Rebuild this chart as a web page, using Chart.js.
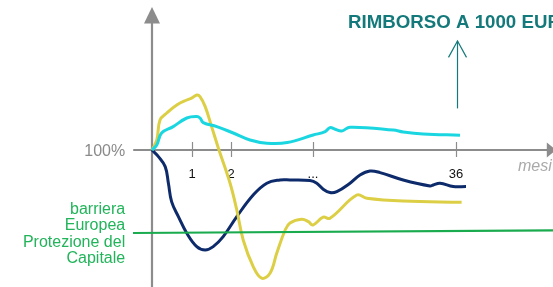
<!DOCTYPE html>
<html>
<head>
<meta charset="utf-8">
<script src="https://cdn.jsdelivr.net/npm/chart.js@4/dist/chart.umd.min.js"></script>
<style>
  html, body { margin: 0; padding: 0; background: #fff; }
  #wrap { width: 553px; height: 287px; position: relative; }
</style>
</head>
<body>
<div id="wrap"><canvas id="myChart"></canvas></div>
<script>
// x in "periods" (tick 1 = month 1, tick 2 = month 2...), y in % of capital
const cyanX = [0, 0.12, 0.24, 0.53, 0.87, 1.12, 1.2, 1.28, 1.62, 2.03, 2.45, 2.87, 3.38, 4.03, 4.33, 4.45, 4.58, 4.74, 4.95, 6.03, 6.28, 6.78, 7.7];
const cyanY = [100, 102.5, 108.5, 111.7, 116, 116.7, 116, 113.7, 111.7, 108.5, 105, 103.4, 103.7, 107.5, 109.2, 111.2, 110.4, 109.5, 111.4, 110, 109, 108, 107.4];

const yellowX = [0, 0.12, 0.2, 0.37, 0.62, 0.87, 0.99, 1.12, 1.2, 1.33, 1.49, 1.66, 1.95, 2.12, 2.28, 2.53, 2.74, 2.95, 3.12, 3.33, 3.45, 3.74, 3.91, 4.02, 4.28, 4.45, 5.12, 5.37, 6.28, 7.74];
const yellowY = [100, 105, 115, 118.5, 122.5, 125, 125.9, 127.5, 126.7, 121.7, 111.7, 100.9, 83.5, 70, 55, 41.7, 35.9, 38.4, 48.5, 60, 63.5, 65.4, 64.2, 62.5, 66.4, 65.9, 77.5, 75.9, 74.5, 73.9];

const navyX = [0, 0.16, 0.33, 0.41, 0.49, 0.66, 0.87, 1.12, 1.33, 1.53, 1.78, 2.12, 2.53, 2.87, 3.2, 3.45, 3.95, 4.12, 4.28, 4.45, 4.62, 4.95, 5.2, 5.45, 5.7, 6.28, 6.95, 7.03, 7.2, 7.53, 7.85];
const navyY = [100, 96.7, 91.7, 83.4, 74.2, 66.7, 58.4, 51.7, 50, 51.7, 56.7, 66.7, 77.5, 83.4, 85, 85, 84.7, 83.4, 80.4, 78.7, 79.2, 83.4, 87.5, 89.5, 88.7, 85, 82, 82.5, 83.4, 81.7, 81.7];

const barrierX = [-0.475, 10.03];
const barrierY = [58.5, 59.8];

const tickPos = [1, 1.975, 4.025, 7.6];
const tickLabels = ['1', '2', '...', '36'];
const barrierLabel = ['barriera', 'Europea', 'Protezione del', 'Capitale'];
const title = 'RIMBORSO A 1000 EUR';
const refLevel = 100;

const xy = (xs, ys) => xs.map((x, i) => ({ x: x, y: ys[i] }));

// axes, arrows and texts drawn from the scales
const decor = {
    id: 'decor',
    beforeDatasetsDraw(chart) {
        const c = chart.ctx;
        const xs = chart.scales.x, ys = chart.scales.y;
        const x0 = xs.getPixelForValue(0);
        const y0 = ys.getPixelForValue(refLevel);
        c.save();
        c.strokeStyle = '#8c8c8c';
        c.fillStyle = '#8c8c8c';
        // y axis
        c.lineWidth = 2.2;
        c.beginPath();
        c.moveTo(x0, chart.chartArea.bottom);
        c.lineTo(x0, ys.getPixelForValue(163.5));
        c.stroke();
        c.beginPath();
        c.moveTo(x0, ys.getPixelForValue(171.5));
        c.lineTo(x0 - 8, ys.getPixelForValue(163.3));
        c.lineTo(x0 + 8, ys.getPixelForValue(163.3));
        c.closePath();
        c.fill();
        // x axis
        c.lineWidth = 2;
        c.beginPath();
        c.moveTo(xs.getPixelForValue(-0.47), y0);
        c.lineTo(xs.getPixelForValue(9.9), y0);
        c.stroke();
        c.beginPath();
        c.moveTo(xs.getPixelForValue(10.1), y0);
        c.lineTo(xs.getPixelForValue(9.87), y0 - 7.5);
        c.lineTo(xs.getPixelForValue(9.87), y0 + 7.5);
        c.closePath();
        c.fill();
        // ticks
        c.lineWidth = 1.2;
        tickPos.forEach((t) => {
            const px = Math.round(xs.getPixelForValue(t)) + 0.5;
            c.beginPath();
            c.moveTo(px, ys.getPixelForValue(104));
            c.lineTo(px, ys.getPixelForValue(96.5));
            c.stroke();
        });

        c.fillStyle = '#111';
        c.font = '13px "Liberation Sans", Arial, sans-serif';
        c.textAlign = 'center';
        c.textBaseline = 'alphabetic';
        tickPos.forEach((t, i) => {
            c.fillText(tickLabels[i], xs.getPixelForValue(t), ys.getPixelForValue(86));
        });

        // 100% label
        c.fillStyle = '#8a8a8a';
        c.font = '16px "Liberation Sans", Arial, sans-serif';
        c.textAlign = 'right';
        c.textBaseline = 'middle';
        c.fillText('100%', xs.getPixelForValue(-0.67), y0 + 2);

        // mesi
        c.fillStyle = '#aaaaaa';
        c.font = 'italic 16px "Liberation Sans", Arial, sans-serif';
        c.textAlign = 'left';
        c.textBaseline = 'alphabetic';
        c.fillText('mesi', xs.getPixelForValue(9.15), ys.getPixelForValue(89.5));

        // barrier label
        c.fillStyle = '#22b45a';
        c.textAlign = 'right';
        c.font = '16px "Liberation Sans", Arial, sans-serif';
        barrierLabel.forEach((s, i) => {
            c.fillText(s, xs.getPixelForValue(-0.67), ys.getPixelForValue(68) + i * 16.4);
        });

        // title and arrow
        c.fillStyle = '#14797a';
        c.strokeStyle = '#14797a';
        c.font = 'bold 18.7px "Liberation Sans", Arial, sans-serif';
        c.textAlign = 'left';
        c.fillText(title, xs.getPixelForValue(4.9), ys.getPixelForValue(160.8));
        const ax = Math.round(xs.getPixelForValue(7.63)) + 0.5;
        c.lineWidth = 1.2;
        c.beginPath();
        c.moveTo(ax, ys.getPixelForValue(120.8));
        c.lineTo(ax, ys.getPixelForValue(154.5));
        c.stroke();
        c.beginPath();
        c.moveTo(ax - 9, ys.getPixelForValue(146.3));
        c.lineTo(ax, ys.getPixelForValue(154.5));
        c.lineTo(ax + 9, ys.getPixelForValue(146.3));
        c.stroke();
        c.restore();
    }
};

const ctx = document.getElementById('myChart').getContext('2d');
const chart = new Chart(ctx, {
    type: 'line',
    data: {
        datasets: [
            { data: xy(barrierX, barrierY), borderColor: '#1aab4f', borderWidth: 2.2, tension: 0 },
            { data: xy(cyanX, cyanY), borderColor: '#1ad6e0', borderWidth: 3, tension: 0.4 },
            { data: xy(yellowX, yellowY), borderColor: '#dccf45', borderWidth: 3, tension: 0.4 },
            { data: xy(navyX, navyY), borderColor: '#0d2a6b', borderWidth: 3, tension: 0.4 },
        ],
    },
    options: {
        animation: false,
        responsive: true,
        maintainAspectRatio: false,
        layout: { padding: 0 },
        elements: { point: { radius: 0 } },
        plugins: { legend: { display: false }, tooltip: { enabled: false } },
        scales: {
            x: { type: 'linear', min: -3.8, max: 10.025, display: false },
            y: { type: 'linear', min: 31.5, max: 175, display: false },
        },
    },
    plugins: [decor],
});
</script>
</body>
</html>
